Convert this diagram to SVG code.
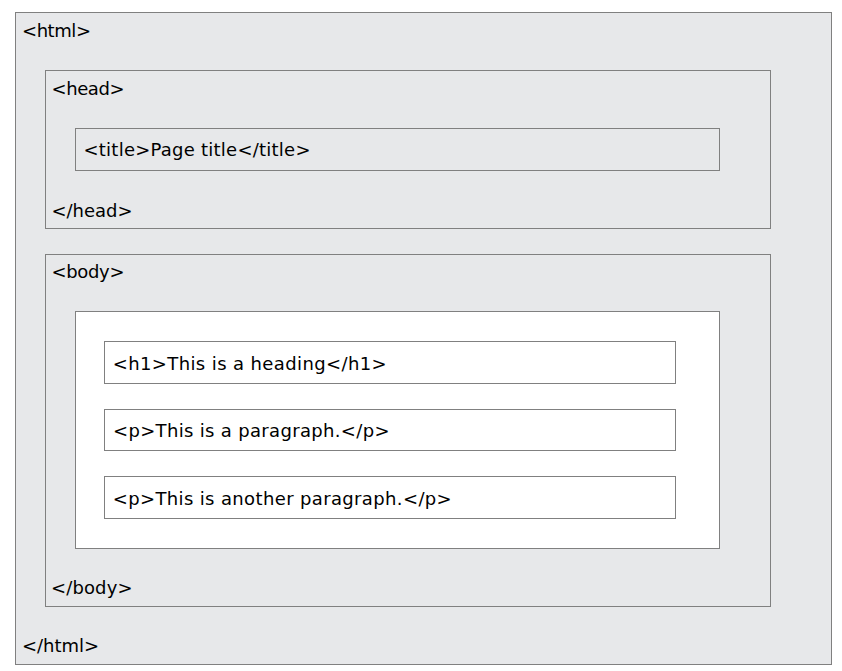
<svg xmlns="http://www.w3.org/2000/svg" width="842" height="671" viewBox="0 0 842 671">
<style>
.g{fill:#e7e8ea;stroke:#808080;stroke-width:1}
.w{fill:#ffffff;stroke:#808080;stroke-width:1}
text{font-family:"DejaVu Sans",Verdana,sans-serif;font-size:18px;fill:#000}
</style>
<rect x="0" y="0" width="842" height="671" fill="#ffffff"/>
<g id="html">
<rect class="g" x="15.5" y="12.5" width="816" height="652"/>
<text x="22" y="37" textLength="69" lengthAdjust="spacing">&lt;html&gt;</text>
<text x="22" y="652" textLength="77" lengthAdjust="spacing">&lt;/html&gt;</text>
</g>
<g id="head">
<rect class="g" x="45.5" y="70.5" width="725" height="158"/>
<text x="51.5" y="95" textLength="73" lengthAdjust="spacing">&lt;head&gt;</text>
<text x="51.5" y="216.5" textLength="81" lengthAdjust="spacing">&lt;/head&gt;</text>
</g>
<g id="title">
<rect class="g" x="75.5" y="128.5" width="644" height="42"/>
<text x="83.5" y="156" textLength="227" lengthAdjust="spacing">&lt;title&gt;Page title&lt;/title&gt;</text>
</g>
<g id="body">
<rect class="g" x="45.5" y="254.5" width="725" height="352"/>
<text x="51.5" y="278" textLength="73" lengthAdjust="spacing">&lt;body&gt;</text>
<text x="51" y="593.5" textLength="81.5" lengthAdjust="spacing">&lt;/body&gt;</text>
</g>
<g id="content">
<rect class="w" x="75.5" y="311.5" width="644" height="237"/>
</g>
<g id="h1">
<rect class="w" x="104.5" y="341.5" width="571" height="42"/>
<text x="112.7" y="370" textLength="274" lengthAdjust="spacing">&lt;h1&gt;This is a heading&lt;/h1&gt;</text>
</g>
<g id="p1">
<rect class="w" x="104.5" y="409.5" width="571" height="41"/>
<text x="113" y="437" textLength="276.5" lengthAdjust="spacing">&lt;p&gt;This is a paragraph.&lt;/p&gt;</text>
</g>
<g id="p2">
<rect class="w" x="104.5" y="476.5" width="571" height="42"/>
<text x="112.7" y="505" textLength="339" lengthAdjust="spacing">&lt;p&gt;This is another paragraph.&lt;/p&gt;</text>
</g>
<g id="connectors"></g>
</svg>
